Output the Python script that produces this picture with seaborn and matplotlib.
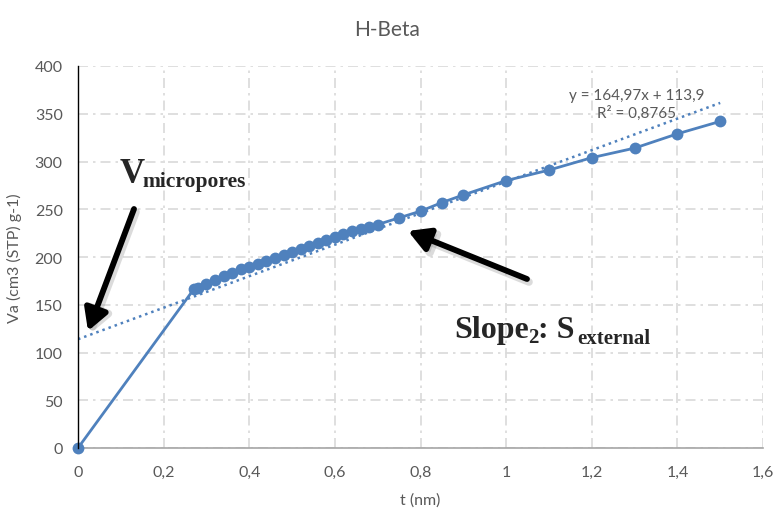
import matplotlib
matplotlib.use("Agg")
import matplotlib.pyplot as plt
import seaborn as sns
import pandas as pd
import numpy as np

# t-plot data for H-Beta
t_nm = [0, 0.27, 0.28, 0.30, 0.32, 0.34, 0.36, 0.38, 0.40, 0.42, 0.44, 0.46,
        0.48, 0.50, 0.52, 0.54, 0.56, 0.58, 0.60, 0.62, 0.64, 0.66, 0.68,
        0.70, 0.75, 0.80, 0.85, 0.90, 1.0, 1.1, 1.2, 1.3, 1.4, 1.5]
va = [0, 166, 168, 172, 176, 180, 183, 187, 190, 193, 196, 199,
      202, 205, 208, 212, 215, 218, 221, 224, 227, 229, 231,
      234, 241, 248, 257, 265, 280, 291, 304, 314, 329, 342]

# linear trendline (slope / intercept as printed on the chart)
slope = 164.97
intercept = 113.9
r2 = 0.8765
trend_t = [0.0, 1.5]

x_ticks = [0, 0.2, 0.4, 0.6, 0.8, 1.0, 1.2, 1.4, 1.6]
x_tick_labels = ["0", "0,2", "0,4", "0,6", "0,8", "1", "1,2", "1,4", "1,6"]
y_ticks = [0, 50, 100, 150, 200, 250, 300, 350, 400]

sns.set_theme(style="white")
plt.rcParams["font.family"] = ["Lato", "DejaVu Sans"]

W, H = 775, 510
fig = plt.figure(figsize=(W / 100, H / 100), dpi=100)
ax = fig.add_axes([78 / W, 1 - 449 / H, (763 - 78) / W, (449 - 67) / H])

blue = "#4F81BD"
grey_txt = "#595959"

df = pd.DataFrame({"t": t_nm, "va": va})
trend = pd.DataFrame({"t": trend_t,
                      "va": [slope * x + intercept for x in trend_t]})

sns.lineplot(data=trend, x="t", y="va", ax=ax, color=blue, lw=1.8,
             linestyle=(0, (1, 1.6)), zorder=3)
sns.lineplot(data=df, x="t", y="va", ax=ax, color=blue, lw=2.0,
             marker="o", markersize=8.5, markeredgewidth=0, zorder=4,
             clip_on=False)

ax.set_xlim(0, 1.6)
ax.set_ylim(0, 400)
ax.set_xticks(x_ticks)
ax.set_xticklabels(x_tick_labels)
ax.set_yticks(y_ticks)
ax.tick_params(axis="both", length=0, labelsize=11.5, colors=grey_txt)
ax.tick_params(axis="y", pad=11)
ax.tick_params(axis="x", pad=12)

ax.grid(True, color="#D9D9D9", lw=1.2, linestyle=(0, (6, 3, 1.5, 3)))
ax.set_axisbelow(True)
for s in ["top", "right"]:
    ax.spines[s].set_visible(False)
ax.spines["left"].set_color("black")
ax.spines["left"].set_linewidth(1.0)
ax.spines["bottom"].set_color("#A6A6A6")
ax.spines["bottom"].set_linewidth(1.2)
ax.spines["left"].set_zorder(5)

ax.set_xlabel("t (nm)", fontsize=11.5, color=grey_txt, labelpad=10)
ax.set_ylabel("Va (cm3 (STP) g-1)", fontsize=11.5, color=grey_txt, labelpad=9)

fig.text(0.5, 1 - 30 / H, "H-Beta", ha="center", va="center",
         fontsize=15, color=grey_txt)

# trendline equation
ax.text(1.305, 360, "y = 164,97x + 113,9\nR² = 0,8765", ha="center",
        va="center", fontsize=11, color=grey_txt, linespacing=1.25)


def px(x, y):
    return x / W, 1 - y / H


serif = ["Liberation Serif", "DejaVu Serif"]
# V micropores label
fig.text(*px(120, 183), "V", fontsize=25, fontweight="bold", family=serif,
         va="baseline", ha="left")
fig.text(*px(142, 187), "micropores", fontsize=15.5, fontweight="bold",
         family=serif, va="baseline", ha="left")

# Slope2: S external label
fig.text(*px(454, 338), "Slope", fontsize=23, fontweight="bold",
         family=serif, va="baseline", ha="left")
fig.text(*px(528, 343), "2", fontsize=15, fontweight="bold",
         family=serif, va="baseline", ha="left")
fig.text(*px(538, 338), ": S", fontsize=23, fontweight="bold",
         family=serif, va="baseline", ha="left")
fig.text(*px(577, 344), "external", fontsize=15, fontweight="bold",
         family=serif, va="baseline", ha="left")

# arrows with a soft drop shadow
def arrow(tip, tail):
    shadow_kw = dict(arrowstyle="-|>,head_length=0.8,head_width=0.45",
                     color="#999999", alpha=0.35, lw=5.5, shrinkA=0,
                     shrinkB=0, mutation_scale=16)
    ax.annotate("", xy=(tip[0] + 2, H - tip[1] - 3),
                xytext=(tail[0] + 2, H - tail[1] - 3),
                xycoords="figure pixels", textcoords="figure pixels",
                arrowprops=shadow_kw, zorder=5)
    arrow_kw = dict(arrowstyle="-|>,head_length=0.8,head_width=0.45",
                    color="black", lw=4.2, shrinkA=0, shrinkB=0,
                    mutation_scale=16)
    ax.annotate("", xy=(tip[0], H - tip[1]), xytext=(tail[0], H - tail[1]),
                xycoords="figure pixels", textcoords="figure pixels",
                arrowprops=arrow_kw, zorder=6)


arrow((88, 332), (134, 210))
arrow((408, 232), (527, 280))

fig.savefig("out.png", dpi=100, facecolor="white")
